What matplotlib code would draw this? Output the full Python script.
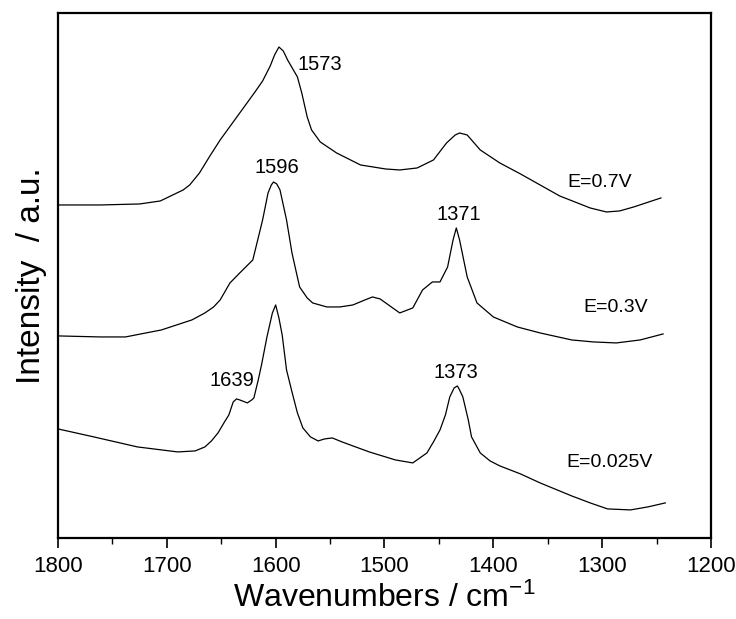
import matplotlib
matplotlib.use("Agg")
import matplotlib.pyplot as plt
from matplotlib.ticker import MultipleLocator

plt.rcParams['font.family'] = ['Liberation Sans', 'DejaVu Sans']
plt.rcParams['mathtext.default'] = 'regular'

# spectra (wavenumber, intensity in a.u. incl. offset)
wn_07 = [1799, 1761, 1725, 1706, 1685, 1679, 1670, 1661, 1651, 1633, 1619, 1612,
         1605, 1601, 1597, 1593, 1589, 1580, 1576, 1571, 1567, 1559, 1544, 1522,
         1499, 1486, 1470, 1455, 1443, 1435, 1431, 1424, 1412, 1394, 1375, 1357,
         1339, 1311, 1296, 1284, 1271, 1246]
int_07 = [332, 332, 333, 336, 347, 352, 364, 380, 397, 424, 445, 456,
          471, 482, 490, 486, 477, 460, 444, 420, 407, 395, 384, 372,
          368, 367, 369, 377, 394, 402, 404, 402, 387, 374, 363, 352,
          341, 329, 325, 326, 330, 339]

wn_03 = [1799, 1761, 1738, 1705, 1677, 1665, 1657, 1651, 1642, 1633, 1621, 1612,
         1607, 1604, 1602, 1599, 1596, 1590, 1585, 1578, 1571, 1566, 1553, 1541,
         1529, 1518, 1511, 1504, 1495, 1486, 1474, 1465, 1456, 1449, 1442, 1437,
         1434, 1431, 1424, 1415, 1400, 1378, 1357, 1328, 1308, 1287, 1265, 1244]
int_03 = [201, 200, 200, 207, 217, 224, 230, 237, 254, 264, 277, 317,
          344, 352, 355, 353, 347, 317, 284, 250, 239, 234, 230, 230,
          232, 237, 240, 238, 231, 224, 229, 247, 255, 255, 270, 297,
          309, 297, 260, 234, 220, 210, 204, 197, 195, 194, 197, 203]

wn_0025 = [1800, 1767, 1727, 1690, 1674, 1665, 1659, 1653, 1647, 1643, 1639, 1636,
           1633, 1626, 1622, 1620, 1616, 1613, 1608, 1603, 1600, 1597, 1594, 1590,
           1585, 1580, 1575, 1568, 1561, 1555, 1548, 1539, 1514, 1490, 1474, 1461,
           1455, 1449, 1444, 1440, 1436, 1433, 1431, 1428, 1423, 1420, 1412, 1403,
           1394, 1375, 1357, 1328, 1311, 1295, 1274, 1258, 1242]
int_0025 = [108, 100, 90, 85, 86, 90, 96, 104, 115, 122, 135, 138,
            137, 134, 137, 139, 157, 172, 200, 224, 232, 219, 202, 167,
            145, 124, 109, 100, 96, 98, 99, 95, 85, 77, 74, 84,
            95, 107, 122, 140, 149, 151, 147, 140, 117, 100, 84, 76,
            71, 63, 54, 41, 34, 28, 27, 30, 34]

spectra = [(wn_07, int_07), (wn_03, int_03), (wn_0025, int_0025)]

potential_labels = ['E=0.7V', 'E=0.3V', 'E=0.025V']
potential_pos = [(1332, 354), (1317, 229), (1333, 74)]

peak_labels = ['1573', '1596', '1371', '1639', '1373']
peak_pos = [(1559, 472), (1599, 369), (1432, 322), (1640, 156), (1434, 164)]

fig = plt.figure(figsize=(7.36, 6.19), dpi=100)
ax = fig.add_axes([0.0788, 0.131, 0.8872, 0.848])

for wn, inten in spectra:
    ax.plot(wn, inten, color='black', lw=0.9)

for txt, (x, y) in zip(potential_labels, potential_pos):
    ax.text(x, y, txt, fontsize=14, ha='left', va='center')

for txt, (x, y) in zip(peak_labels, peak_pos):
    ax.text(x, y, txt, fontsize=14.5, ha='center', va='center')

ax.set_xlim(1800, 1200)
ax.set_ylim(-1, 524)
ax.xaxis.set_major_locator(MultipleLocator(100))
ax.xaxis.set_minor_locator(MultipleLocator(50))
ax.tick_params(axis='x', which='both', direction='out', labelsize=16, pad=6)
ax.tick_params(axis='x', which='major', length=7, width=1.2)
ax.tick_params(axis='x', which='minor', length=4, width=1)
ax.set_yticks([])
for s in ax.spines.values():
    s.set_linewidth(1.6)

ax.set_xlabel('Wavenumbers / cm$^{-1}$', fontsize=23, labelpad=4)
ax.set_ylabel('Intensity  / a.u.', fontsize=24, labelpad=8)

fig.savefig('out.png', dpi=100)
